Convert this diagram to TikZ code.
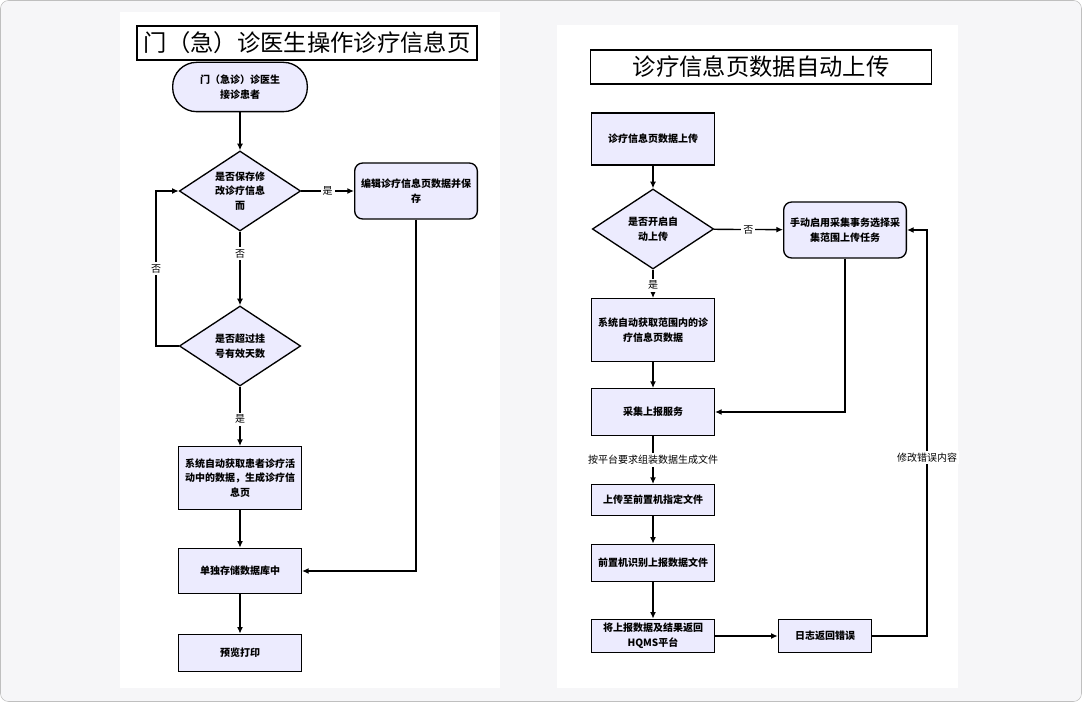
\documentclass[tikz,border=0pt]{standalone}
\usepackage{fontspec}
\setmainfont{Noto Sans CJK SC}
\usetikzlibrary{shapes.geometric,arrows.meta}
\definecolor{nf}{HTML}{ECEBFE}
\definecolor{bgc}{HTML}{F6F6F8}
\begin{document}
\begin{tikzpicture}[x=0.75pt,y=-0.75pt,
  base/.style={draw=black,fill=nf,line width=1pt,font=\fontsize{7.5}{11}\selectfont\bfseries,align=center,inner sep=2pt},
  box/.style={base,rectangle,minimum width=92pt,minimum height=#1},
  rbox/.style={base,rectangle,rounded corners=6pt,minimum width=92pt,minimum height=#1},
  dia/.style={base,diamond,aspect=1.5,minimum width=91pt,minimum height=60pt,inner sep=0pt},
  ttl/.style={draw=black,line width=1pt,font=\fontsize{17.5}{18}\selectfont,inner sep=0pt},
  lab/.style={fill=white,font=\fontsize{7.5}{9}\selectfont,inner sep=1.5pt},
  ar/.style={draw=black,line width=1pt,-{Latex[length=5pt,width=4.5pt]}}]
\useasboundingbox (0,0) rectangle (1082,702);
\draw[draw=black!25,fill=bgc,rounded corners=6pt] (0.5,0.5) rectangle (1081.5,701.5);
\fill[white] (120,12) rectangle (500,688);
\fill[white] (557,25) rectangle (958,688);
% left
\node[ttl,minimum width=255pt,minimum height=25.5pt] (t1) at (307,43) {门（急）诊医生操作诊疗信息页};
\node[base,rounded corners=18pt,minimum width=101pt,minimum height=37pt] (s) at (240,87) {门（急诊）诊医生\\接诊患者};
\node[dia] (d1) at (240,191) {是否保存修\\改诊疗信息\\而};
\node[rbox=42pt] (e) at (416,191) {编辑诊疗信息页数据并保\\存};
\node[dia] (d2) at (240,346) {是否超过挂\\号有效天数};
\node[box=47pt] (g) at (240,478) {系统自动获取患者诊疗活\\动中的数据，生成诊疗信\\息页};
\node[box=34pt] (st) at (240,571) {单独存储数据库中};
\node[box=28pt] (p) at (240,653) {预览打印};
\draw[ar] (s) -- (d1);
\draw[ar] (d1) -- node[lab]{是} (e);
\draw[ar] (d1) -- node[lab,pos=0.3]{否} (d2);
\draw[ar] (d2.west) -- (156,346) -- node[lab]{否} (156,191) -- (d1.west);
\draw[ar] (d2) -- node[lab,pos=0.55]{是} (g);
\draw[ar] (g) -- (st);
\draw[ar] (st) -- (p);
\draw[ar] (e.south) -- (416,571) -- (st.east);
% right
\node[ttl,minimum width=256pt,minimum height=25.5pt] (t2) at (761,67) {诊疗信息页数据自动上传};
\node[box=39pt] (u) at (653,139) {诊疗信息页数据上传};
\node[dia] (d3) at (653,229) {是否开启自\\动上传};
\node[rbox=42pt] (m) at (845,230) {手动启用采集事务选择采\\集范围上传任务};
\node[box=47pt] (a) at (653,330) {系统自动获取范围内的诊\\疗信息页数据};
\node[box=35pt] (c) at (653,412) {采集上报服务};
\node[box=23pt] (f) at (653,500) {上传至前置机指定文件};
\node[box=28pt] (r) at (653,563) {前置机识别上报数据文件};
\node[box=25pt] (rt) at (653,636) {将上报数据及结果返回\\HQMS平台};
\node[box=25pt,minimum width=70pt] (l) at (825,636) {日志返回错误};
\draw[ar] (u) -- (d3);
\draw[ar] (d3) -- node[lab]{否} (m);
\draw[ar] (d3) -- node[lab,pos=0.55]{是} (a);
\draw[ar] (a) -- (c);
\draw[ar] (c) -- node[lab]{按平台要求组装数据生成文件} (f);
\draw[ar] (f) -- (r);
\draw[ar] (r) -- (rt);
\draw[ar] (rt) -- (l);
\draw[ar] (m.south) -- (845,412) -- (c.east);
\draw[ar] (l.east) -- (927,636) -- node[lab,pos=0.44]{修改错误内容} (927,230) -- (m.east);
\end{tikzpicture}
\end{document}
